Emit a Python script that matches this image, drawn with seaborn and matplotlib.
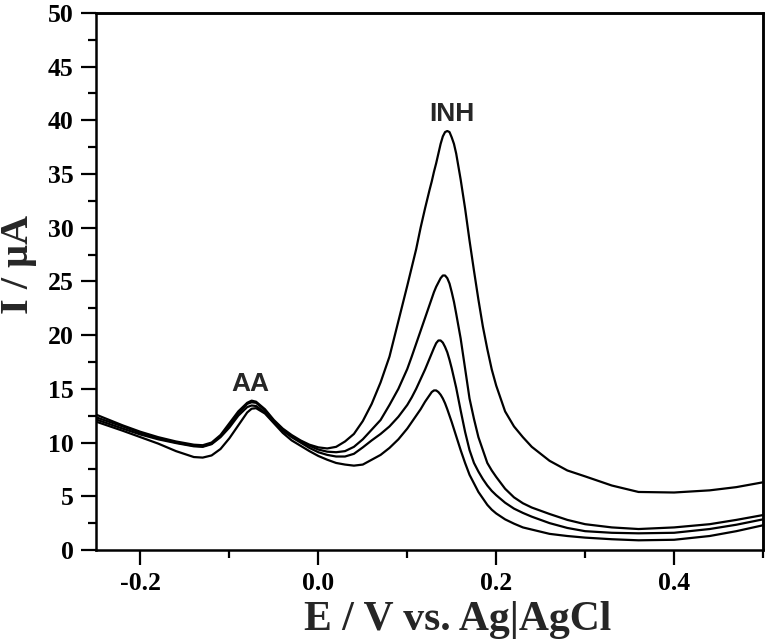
import pandas as pd
import matplotlib
matplotlib.use("Agg")
import matplotlib.pyplot as plt
from matplotlib.ticker import MultipleLocator, FormatStrFormatter
import seaborn as sns

#%% data (E in V, I in uA)
potential = [-0.25, -0.22, -0.20, -0.18, -0.16, -0.14, -0.13, -0.12, -0.11, -0.10,
             -0.09, -0.08, -0.075, -0.07, -0.06, -0.05, -0.04, -0.03, -0.02, -0.01,
             0.00, 0.01, 0.02, 0.03, 0.04, 0.05, 0.06, 0.07, 0.08, 0.09,
             0.100, 0.105, 0.110, 0.115, 0.120,
             0.125, 0.1275, 0.130, 0.1325, 0.135, 0.1375, 0.140, 0.1425, 0.145,
             0.1475, 0.150, 0.1525, 0.155,
             0.160, 0.165, 0.170, 0.175, 0.180, 0.185, 0.190, 0.195,
             0.200, 0.21, 0.22, 0.23, 0.24, 0.26, 0.28, 0.30, 0.33, 0.36,
             0.40, 0.44, 0.47, 0.50]

current_1 = [12.6, 11.6, 11.0, 10.5, 10.1, 9.8, 9.75, 10.0, 10.7, 11.8,
             12.9, 13.7, 13.9, 13.8, 13.1, 12.1, 11.3, 10.7, 10.2, 9.8,
             9.55, 9.45, 9.6, 10.1, 10.8, 12.0, 13.6, 15.6, 18.0, 21.3,
             24.6, 26.3, 28.0, 30.0, 31.8,
             33.5, 34.3, 35.2, 36.0, 36.9, 37.8, 38.5, 38.9, 39.0,
             38.9, 38.4, 37.8, 36.9,
             34.5, 31.8, 28.8, 26.0, 23.3, 20.8, 18.7, 16.8,
             15.3, 12.9, 11.5, 10.5, 9.6, 8.3, 7.4, 6.85, 6.0, 5.4,
             5.35, 5.55, 5.85, 6.3]

current_2 = [12.35, 11.5, 10.9, 10.4, 10.0, 9.7, 9.65, 9.9, 10.6, 11.6,
             12.7, 13.6, 13.75, 13.7, 13.0, 12.0, 11.2, 10.6, 10.1, 9.7,
             9.35, 9.15, 9.1, 9.2, 9.6, 10.3, 11.2, 12.1, 13.5, 15.0,
             16.85, 18.0, 19.2, 20.4, 21.6,
             22.8, 23.4, 24.0, 24.5, 24.9, 25.3, 25.55, 25.55, 25.3,
             24.8, 24.0, 23.1, 22.0,
             19.7, 16.9, 14.1, 12.2, 10.5, 9.3, 8.1, 7.4,
             6.8, 5.7, 4.9, 4.35, 3.95, 3.35, 2.8, 2.4, 2.1, 1.95,
             2.1, 2.4, 2.8, 3.25]

current_3 = [12.15, 11.3, 10.75, 10.3, 9.95, 9.65, 9.6, 9.85, 10.5, 11.4,
             12.5, 13.3, 13.45, 13.4, 12.8, 11.9, 11.1, 10.5, 10.0, 9.5,
             9.1, 8.85, 8.7, 8.7, 8.95, 9.55, 10.2, 10.8, 11.5, 12.4,
             13.5, 14.2, 15.0, 15.9, 16.8,
             17.8, 18.3, 18.8, 19.25, 19.5, 19.5, 19.3, 18.9, 18.4,
             17.7, 16.9, 16.0, 15.1,
             13.0, 11.0, 9.3, 8.1, 7.3, 6.6, 6.0, 5.5,
             5.1, 4.4, 3.85, 3.45, 3.1, 2.5, 2.05, 1.75, 1.6, 1.55,
             1.6, 1.95, 2.35, 2.85]

current_4 = [11.95, 11.1, 10.5, 9.9, 9.2, 8.65, 8.6, 8.8, 9.4, 10.4,
             11.6, 12.8, 13.15, 13.2, 12.7, 11.8, 10.9, 10.2, 9.7, 9.2,
             8.75, 8.4, 8.1, 7.95, 7.85, 7.95, 8.4, 8.85, 9.5, 10.3,
             11.3, 11.9, 12.5, 13.1, 13.8,
             14.4, 14.7, 14.85, 14.85, 14.7, 14.45, 14.1, 13.65, 13.1,
             12.5, 11.9, 11.25, 10.6,
             9.3, 8.1, 7.0, 6.2, 5.4, 4.8, 4.2, 3.75,
             3.4, 2.85, 2.45, 2.1, 1.9, 1.5, 1.3, 1.15, 1.0, 0.9,
             0.95, 1.3, 1.75, 2.3]

curves = {'c1': current_1, 'c2': current_2, 'c3': current_3, 'c4': current_4}

#%% long form table for seaborn
df = pd.concat([pd.DataFrame({'E': potential, 'I': vals, 'curve': name})
                for name, vals in curves.items()], ignore_index=True)

sns.set_style('ticks')
plt.rcParams['axes.unicode_minus'] = False

fig = plt.figure(figsize=(7.68, 6.41), dpi=100)
ax = fig.add_axes([0.125, 0.142, 0.8685, 0.838])

sns.lineplot(data=df, x='E', y='I', hue='curve', palette=['black'] * 4,
             linewidth=1.6, legend=False, ax=ax)

ax.set_xlim(-0.25, 0.5)
ax.set_ylim(0, 50)
ax.xaxis.set_major_locator(MultipleLocator(0.2))
ax.xaxis.set_minor_locator(MultipleLocator(0.1))
ax.yaxis.set_major_locator(MultipleLocator(5))
ax.yaxis.set_minor_locator(MultipleLocator(2.5))
ax.xaxis.set_major_formatter(FormatStrFormatter('%.1f'))

ax.tick_params(which='major', direction='out', length=11, width=1.6,
               top=False, right=False, pad=5, colors='black')
ax.tick_params(which='minor', direction='out', length=6, width=1.6,
               top=False, right=False, colors='black')

for lab in ax.get_xticklabels() + ax.get_yticklabels():
    lab.set_fontfamily('Liberation Serif')
    lab.set_fontweight('bold')
    lab.set_fontsize(18.5)

ax.set_xlabel('E / V vs. Ag|AgCl', fontfamily='Liberation Serif', fontweight='bold',
              fontsize=30, labelpad=4)
ax.set_ylabel('I / \u03bcA', fontfamily='Liberation Serif', fontweight='bold',
              fontsize=29, labelpad=8)
ax.xaxis.label.set_x(0.542)
ax.yaxis.label.set_y(0.531)

ax.text(-0.0764, 14.8, 'AA', ha='center', va='baseline', fontsize=19,
        fontweight='bold', fontfamily='Liberation Sans')
ax.text(0.1506, 39.9, 'INH', ha='center', va='baseline', fontsize=19,
        fontweight='bold', fontfamily='Liberation Sans')

for s in ax.spines.values():
    s.set_visible(True)
    s.set_linewidth(1.8)
    s.set_color('black')

# top/right spines kept vanishing here, so draw the box edges in axes coords
ax.plot([0, 1, 1], [1, 1, 0], transform=ax.transAxes, color='black',
        linewidth=1.8, clip_on=False, solid_joinstyle='miter', zorder=5)

fig.savefig('out.png', dpi=100)
